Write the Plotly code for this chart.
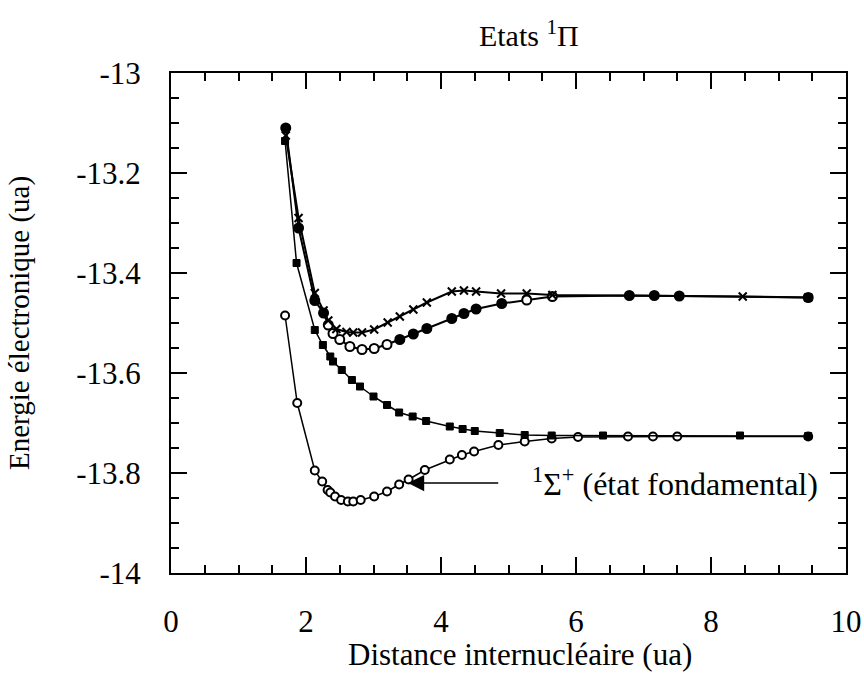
import plotly.graph_objects as go

# ---- data ----
cross_x = [1.70, 1.89, 2.13, 2.26, 2.33, 2.45, 2.60, 2.70, 2.83, 3.01, 3.21, 3.39, 3.59, 3.79,
           4.16, 4.34, 4.52, 4.89, 5.27, 5.65, 8.47, 9.44]
cross_y = [-13.125, -13.29, -13.44, -13.475, -13.495, -13.512, -13.518, -13.519, -13.519, -13.513,
           -13.499, -13.487, -13.473, -13.459, -13.437, -13.435, -13.437, -13.441, -13.441,
           -13.444, -13.447, -13.449]

circ_x = [1.70, 1.89, 2.13, 2.26, 2.33, 2.40, 2.50, 2.65, 2.83, 3.01, 3.20, 3.39, 3.59, 3.79,
          4.16, 4.34, 4.52, 4.90, 5.27, 5.65, 6.79, 7.16, 7.53, 9.44]
circ_y = [-13.11, -13.31, -13.455, -13.48, -13.504, -13.521, -13.533, -13.547, -13.553, -13.551,
          -13.543, -13.533, -13.522, -13.511, -13.491, -13.481, -13.472, -13.461, -13.454,
          -13.447, -13.445, -13.445, -13.446, -13.449]
circ_filled = [1, 1, 1, 1, 0, 0, 0, 0, 0, 0, 0, 1, 1, 1, 1, 1, 1, 1, 0, 0, 1, 1, 1, 1]

sq_x = [1.69, 1.86, 2.13, 2.25, 2.36, 2.40, 2.53, 2.68, 2.80, 3.00, 3.20, 3.38, 3.58, 3.78,
        4.13, 4.32, 4.50, 4.87, 5.24, 5.64, 6.40, 8.43, 9.44]
sq_y = [-13.136, -13.38, -13.514, -13.544, -13.567, -13.577, -13.594, -13.614, -13.627, -13.647,
        -13.664, -13.679, -13.687, -13.696, -13.707, -13.712, -13.716, -13.720, -13.724,
        -13.725, -13.725, -13.725, -13.726]

gs_x = [1.69, 1.87, 2.13, 2.24, 2.32, 2.36, 2.43, 2.52, 2.62, 2.70, 2.81, 3.01, 3.20, 3.38,
        3.52, 3.76, 4.13, 4.31, 4.49, 4.85, 5.24, 5.64, 6.03, 6.77, 7.14, 7.50, 9.44]
gs_y = [-13.485, -13.66, -13.795, -13.817, -13.834, -13.839, -13.847, -13.854, -13.857, -13.857,
        -13.854, -13.847, -13.837, -13.823, -13.813, -13.794, -13.773, -13.764, -13.757,
        -13.744, -13.737, -13.731, -13.728, -13.727, -13.727, -13.727, -13.727]

x_ticks = [0, 2, 4, 6, 8, 10]
x_tick_text = ["0", "2", "4", "6", "8", "10"]
y_ticks = [-14, -13.8, -13.6, -13.4, -13.2, -13]
y_tick_text = ["-14", "-13.8", "-13.6", "-13.4", "-13.2", "-13"]

FONT = "Times New Roman, Liberation Serif, DejaVu Serif, serif"

fig = go.Figure()

fig.add_trace(go.Scatter(
    x=gs_x, y=gs_y, mode="lines+markers",
    line=dict(color="black", width=1.5),
    marker=dict(symbol="circle", size=8, color="white", line=dict(color="black", width=2)),
))
fig.add_trace(go.Scatter(
    x=sq_x, y=sq_y, mode="lines+markers",
    line=dict(color="black", width=1.5),
    marker=dict(symbol="square", size=7, color="black", line=dict(color="black", width=1)),
))
fig.add_trace(go.Scatter(
    x=circ_x, y=circ_y, mode="lines+markers",
    line=dict(color="black", width=2),
    marker=dict(symbol="circle", size=9,
                color=["black" if f else "white" for f in circ_filled],
                line=dict(color="black", width=2)),
))
fig.add_trace(go.Scatter(
    x=cross_x, y=cross_y, mode="lines+markers",
    line=dict(color="black", width=2),
    marker=dict(symbol="x-thin", size=8, color="black", line=dict(color="black", width=2)),
))

fig.add_annotation(
    x=3.51, y=-13.82, ax=4.87, ay=-13.82, xref="x", yref="y", axref="x", ayref="y",
    showarrow=True, arrowhead=2, arrowsize=2.5, arrowwidth=1.3, arrowcolor="black", text="",
)
fig.add_annotation(
    x=5.32, y=-13.818, xref="x", yref="y", xanchor="left", yanchor="middle", showarrow=False,
    text="<sup>1</sup>Σ<sup>+</sup> (état fondamental)",
    font=dict(family=FONT, size=32, color="black"),
)
# x-axis title (placed as annotation to match the reference's offset)
fig.add_annotation(
    x=0.517, y=-0.162, xref="paper", yref="paper", xanchor="center", yanchor="middle",
    showarrow=False, text="Distance internucléaire (ua)",
    font=dict(family=FONT, size=31, color="black"),
)

axis_common = dict(
    showline=True, linewidth=2, linecolor="black", mirror="ticks",
    ticks="inside", tickwidth=2, tickcolor="black", showgrid=False, zeroline=False,
    tickfont=dict(family=FONT, size=31, color="black"), automargin=False,
)

fig.update_xaxes(
    range=[0, 10], tickvals=x_ticks, ticktext=x_tick_text, ticklen=16,
    minor=dict(dtick=0.5, tick0=0, ticks="inside", ticklen=8, tickwidth=2, tickcolor="black"),
    ticklabelstandoff=20,
    **axis_common,
)
fig.update_yaxes(
    range=[-14, -13], tickvals=y_ticks, ticktext=y_tick_text, ticklen=16,
    minor=dict(dtick=0.05, tick0=-14, ticks="inside", ticklen=8, tickwidth=2, tickcolor="black"),
    title_text="Energie électronique (ua)", title_standoff=38,
    title_font=dict(family=FONT, size=29, color="black"),
    ticklabelstandoff=22,
    **axis_common,
)

fig.update_layout(
    width=864, height=674,
    margin=dict(l=171, r=18, t=73, b=101),
    paper_bgcolor="white", plot_bgcolor="white",
    showlegend=False,
    font=dict(family=FONT, size=28, color="black"),
    title=dict(text="Etats <sup>1</sup>Π", x=0.612, xanchor="center", y=0.947, yanchor="middle",
               font=dict(family=FONT, size=30, color="black")),
)

fig.write_html(
    "out.html",
    config={"displayModeBar": False},
    post_script="document.body.style.margin='0';document.body.style.overflow='hidden';",
)
